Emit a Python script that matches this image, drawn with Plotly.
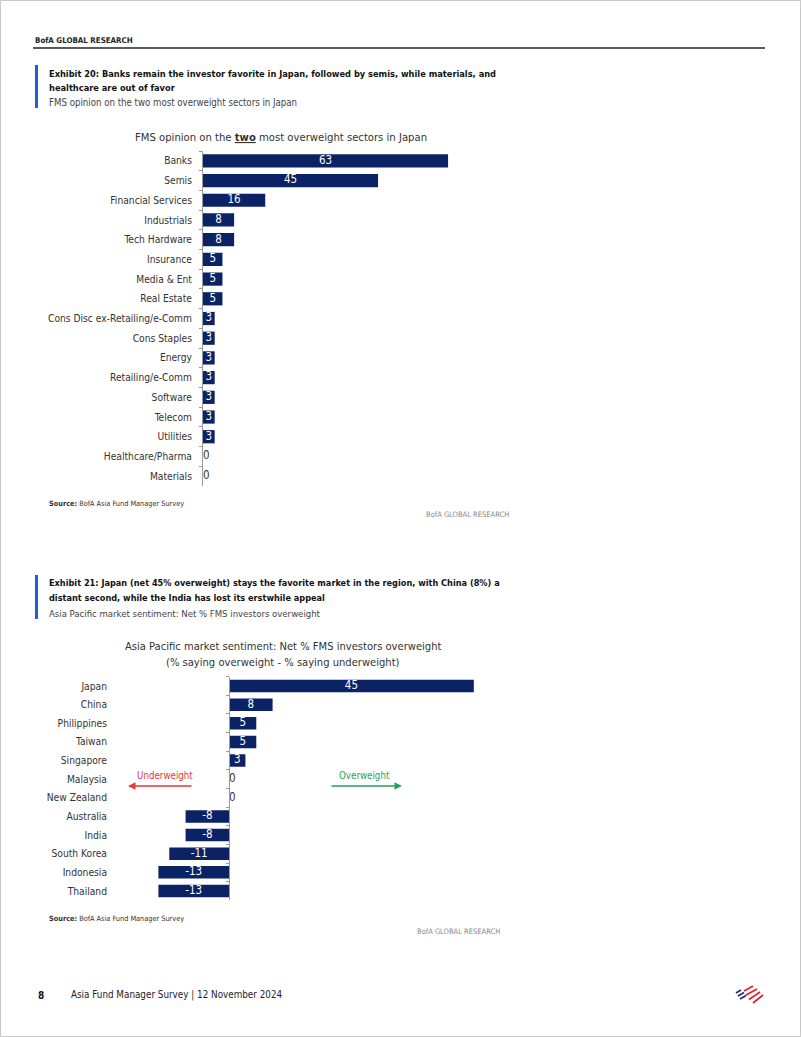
import plotly.graph_objects as go

W, H = 802, 1037
FONT = "DejaVu Sans Condensed, Liberation Sans Narrow, Arial Narrow, sans-serif"
NAVY = "#0b2265"
TXT = "#333333"

# ---- Data: chart 1 ----
sectors = ["Banks", "Semis", "Financial Services", "Industrials", "Tech Hardware",
           "Insurance", "Media & Ent", "Real Estate", "Cons Disc ex-Retailing/e-Comm",
           "Cons Staples", "Energy", "Retailing/e-Comm", "Software", "Telecom",
           "Utilities", "Healthcare/Pharma", "Materials"]
sector_vals = [63, 45, 16, 8, 8, 5, 5, 5, 3, 3, 3, 3, 3, 3, 3, 0, 0]

# ---- Data: chart 2 ----
markets = ["Japan", "China", "Philippines", "Taiwan", "Singapore", "Malaysia",
           "New Zealand", "Australia", "India", "South Korea", "Indonesia", "Thailand"]
market_vals = [45, 8, 5, 5, 3, 0, 0, -8, -8, -11, -13, -13]


def px(x):
    return x / W


def py(y):
    return 1 - y / H


fig = go.Figure()

# Chart 1 bars
fig.add_trace(go.Bar(x=sector_vals, y=sectors, orientation="h", marker_color=NAVY,
                     marker_line_width=0, xaxis="x", yaxis="y", hoverinfo="skip"))
fig.add_trace(go.Scatter(
    x=[v / 2 if v != 0 else 0 for v in sector_vals], y=sectors, mode="text",
    text=[str(v) for v in sector_vals],
    textposition=["middle center" if v != 0 else "middle right" for v in sector_vals],
    textfont=dict(family=FONT, size=11.5,
                  color=["white" if v != 0 else TXT for v in sector_vals]),
    xaxis="x", yaxis="y", cliponaxis=False, hoverinfo="skip"))

# Chart 2 bars
fig.add_trace(go.Bar(x=market_vals, y=markets, orientation="h", marker_color=NAVY,
                     marker_line_width=0, xaxis="x2", yaxis="y2", hoverinfo="skip"))
fig.add_trace(go.Scatter(
    x=[v / 2 if v != 0 else 0 for v in market_vals], y=markets, mode="text",
    text=[str(v) for v in market_vals],
    textposition=["middle center" if v != 0 else "middle right" for v in market_vals],
    textfont=dict(family=FONT, size=11.5,
                  color=["white" if v != 0 else TXT for v in market_vals]),
    xaxis="x2", yaxis="y2", cliponaxis=False, hoverinfo="skip"))
# invisible trace for the zero-line axis with boundary ticks
fig.add_trace(go.Scatter(x=[0] * len(markets), y=markets, mode="markers",
                         marker=dict(opacity=0), xaxis="x2", yaxis="y3",
                         hoverinfo="skip"))

n1, n2 = len(sectors), len(markets)
axis_common = dict(showgrid=False, zeroline=False)

fig.update_layout(
    width=W, height=H, autosize=False,
    margin=dict(l=0, r=0, t=0, b=0),
    paper_bgcolor="white", plot_bgcolor="white",
    showlegend=False, bargap=0.33,
    font=dict(family=FONT, color=TXT, size=10),
    xaxis=dict(domain=[px(203), px(203 + 70 * 3.89)], range=[0, 70], anchor="y",
               showticklabels=False, showline=False, **axis_common),
    yaxis=dict(domain=[py(486), py(151)], anchor="x", type="category",
               categoryorder="array", categoryarray=sectors,
               range=[n1 - 0.5, -0.5], showline=True, linecolor="#9a9a9a",
               linewidth=1, ticks="outside", tickson="boundaries", ticklen=3,
               tickcolor="#9a9a9a", ticklabelstandoff=8,
               tickfont=dict(family=FONT, size=10.2, color=TXT), **axis_common),
    xaxis2=dict(domain=[px(110), px(229 + 50 * 5.44)], range=[-21.9, 50], anchor="y2",
                showticklabels=False, showline=False, **axis_common),
    yaxis2=dict(domain=[py(900.3), py(676.7)], anchor="x2", type="category",
                categoryorder="array", categoryarray=markets,
                range=[n2 - 0.5, -0.5], showline=False, ticks="",
                ticklabelstandoff=2,
                tickfont=dict(family=FONT, size=10.2, color=TXT), **axis_common),
    yaxis3=dict(overlaying="y2", anchor="free", position=px(229), side="left",
                type="category", categoryorder="array", categoryarray=markets,
                range=[n2 - 0.5, -0.5], showline=True, linecolor="#9a9a9a",
                linewidth=1, ticks="outside", tickson="boundaries", ticklen=3,
                tickcolor="#9a9a9a", showticklabels=False, **axis_common),
)

ann = []


def text(x, y, s, size=10, color=TXT, anchor="left", family=FONT, yanchor="middle"):
    ann.append(dict(x=px(x), y=py(y), xref="paper", yref="paper", text=s,
                    showarrow=False, xanchor=anchor, yanchor=yanchor,
                    font=dict(family=family, size=size, color=color)))


# header
text(33, 41, "<b>BofA GLOBAL RESEARCH</b>", size=7.9, color="#222")
# exhibit 20
text(47, 73, "<b>Exhibit 20: Banks remain the investor favorite in Japan, followed by semis, while materials, and</b>",
     size=9.2, color="#111")
text(47, 87.5, "<b>healthcare are out of favor</b>", size=9.2, color="#111")
text(47, 102, "FMS opinion on the two most overweight sectors in Japan", size=9.6, color="#444")
text(281, 137.5, "FMS opinion on the <b><u>two</u></b> most overweight sectors in Japan", size=11.2,
     color="#333", anchor="center")
text(47, 503, "<b>Source:</b> BofA Asia Fund Manager Survey", size=7.3, color="#333")
text(511, 514, "BofA GLOBAL RESEARCH", size=7.5, color="#888", anchor="right")
# exhibit 21
text(47, 583, "<b>Exhibit 21: Japan (net 45% overweight) stays the favorite market in the region, with China (8%) a</b>",
     size=9.1, color="#111")
text(47, 598, "<b>distant second, while the India has lost its erstwhile appeal</b>", size=9.1, color="#111")
text(47, 613, "Asia Pacific market sentiment: Net % FMS investors overweight", size=9.5, color="#444")
text(283, 646, "Asia Pacific market sentiment: Net % FMS investors overweight", size=11.1, color="#333",
     anchor="center")
text(283, 662, "(% saying overweight - % saying underweight)", size=11.1, color="#333", anchor="center")
text(165, 775, "Underweight", size=9.7, color="#e8343a", anchor="center")
text(364, 775, "Overweight", size=9.7, color="#22a35a", anchor="center")
text(47, 918, "<b>Source:</b> BofA Asia Fund Manager Survey", size=7.3, color="#333")
text(502, 931, "BofA GLOBAL RESEARCH", size=7.5, color="#888", anchor="right")
# footer
text(36, 995, "<b>8</b>", size=10, color="#111")
text(69, 995, "Asia Fund Manager Survey | 12 November 2024", size=9.8, color="#222")

# arrows
ann.append(dict(x=px(128), y=py(786), xref="paper", yref="paper", ax=65, ay=0, text="",
                showarrow=True, arrowhead=2, arrowsize=1, arrowwidth=1.5,
                arrowcolor="#e8343a"))
ann.append(dict(x=px(402), y=py(786), xref="paper", yref="paper", ax=-72, ay=0, text="",
                showarrow=True, arrowhead=2, arrowsize=1, arrowwidth=1.5,
                arrowcolor="#22a35a"))

shapes = []
# page border
shapes.append(dict(type="rect", xref="paper", yref="paper", x0=px(0.5), x1=px(800.5),
                   y0=py(1036.5), y1=py(0.5), line=dict(color="#c8c8c8", width=1)))
# header rule
shapes.append(dict(type="line", xref="paper", yref="paper", x0=px(33), x1=px(765),
                   y0=py(48), y1=py(48), line=dict(color="#222", width=1.5)))
# blue exhibit bars
for y0, y1 in [(65, 108), (575, 619)]:
    shapes.append(dict(type="rect", xref="paper", yref="paper", x0=px(35), x1=px(38),
                       y0=py(y1), y1=py(y0), fillcolor="#1f5fd1", line=dict(width=0)))
# logo (stylised flag stripes)
blue_stripes = [((736, 993), (741, 990)), ((738, 996), (744, 992.5)), ((740, 999), (746, 995.5))]
red_stripes = [((744, 991), (753, 986)), ((746, 995), (757, 989)), ((749, 999.5), (760, 992)),
               ((753, 1003), (763, 995))]
for (a, b) in blue_stripes:
    shapes.append(dict(type="line", xref="paper", yref="paper", x0=px(a[0]), y0=py(a[1]),
                       x1=px(b[0]), y1=py(b[1]), line=dict(color="#1b2f7a", width=1.8)))
for (a, b) in red_stripes:
    shapes.append(dict(type="line", xref="paper", yref="paper", x0=px(a[0]), y0=py(a[1]),
                       x1=px(b[0]), y1=py(b[1]), line=dict(color="#e3212f", width=1.8)))

fig.update_layout(annotations=ann, shapes=shapes)
fig.write_html("out.html", config={"displayModeBar": False},
               post_script="document.body.style.margin='0px';"
                           "document.documentElement.style.overflow='hidden';")
